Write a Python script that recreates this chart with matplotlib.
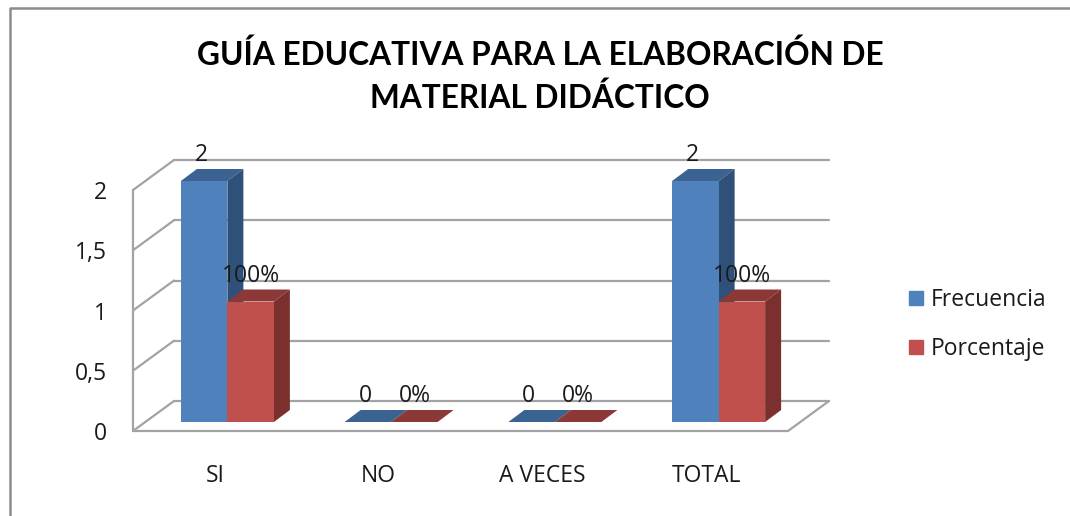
import matplotlib
matplotlib.use("Agg")
import matplotlib.pyplot as plt
from matplotlib.patches import Polygon, Patch
from matplotlib.lines import Line2D
from matplotlib.transforms import Affine2D

# ---- data ----
categories = ["SI", "NO", "A VECES", "TOTAL"]
frecuencia = [2, 0, 0, 2]
porcentaje = [1, 0, 0, 1]
frecuencia_labels = ["2", "0", "0", "2"]
porcentaje_labels = ["100%", "0%", "0%", "100%"]
y_ticks = [0, 0.5, 1, 1.5, 2]
y_tick_labels = ["0", "0,5", "1", "1,5", "2"]
title = "GUÍA EDUCATIVA PARA LA ELABORACIÓN DE\nMATERIAL DIDÁCTICO"

# ---- style ----
W, H = 1070, 516
plt.rcParams["font.family"] = ["Open Sans", "DejaVu Sans"]
TXT = "#1a1a1a"
GRID = "#a3a3a3"
FRAME = "#8c8c8c"
BLUE, BLUE_SIDE, BLUE_TOP = "#4F81BD", "#2F5179", "#3A6391"
RED, RED_SIDE, RED_TOP = "#C0504D", "#7B302E", "#8C3836"
WALL_DX, WALL_DY = 41, 30      # depth of the chart box, px
BAR_DX, BAR_DY = 16, 12        # depth of each bar, px
SHIFT_DX, SHIFT_DY = 12.5, 9   # bars sit inside the box, px
BAR_W = 0.284
FS = 16.5

fig = plt.figure(figsize=(W / 100, H / 100), dpi=100, facecolor="white")
L, R, TOP, BOT = 133, 788, 190, 431
ax = fig.add_axes([L / W, 1 - BOT / H, (R - L) / W, (BOT - TOP) / H])
ax.set_xlim(0, len(categories))
ax.set_ylim(0, 2)
ax.patch.set_visible(False)
for s in ax.spines.values():
    s.set_visible(False)

ax.set_xticks([i + 0.5 for i in range(len(categories))], categories)
ax.set_yticks(y_ticks, y_tick_labels)
ax.tick_params(axis="both", length=0, labelsize=FS, labelcolor=TXT)
ax.tick_params(axis="x", pad=23.5)
ax.tick_params(axis="y", pad=19)


# pixel-offset transforms on top of the data transform
def off(dx, dy):
    return ax.transData + Affine2D().translate(dx, dy)


wall = off(WALL_DX, WALL_DY)
bars = off(SHIFT_DX, SHIFT_DY)
bars_back = off(SHIFT_DX + BAR_DX, SHIFT_DY + BAR_DY)

# box: walls and floor
gk = dict(color=GRID, lw=1.6, clip_on=False, zorder=1, solid_capstyle="round")
xmax = len(categories)
for y in y_ticks:
    p0 = ax.transData.transform((0, y))
    p1 = wall.transform((0, y))
    ax.add_line(Line2D([p0[0], p1[0]], [p0[1], p1[1]], transform=None, **gk))
    ax.add_line(Line2D([0, xmax], [y, y], transform=wall, **gk))
ax.add_line(Line2D([0, 0], [0, 2], transform=ax.transData, **gk))
ax.add_line(Line2D([0, xmax], [0, 0], transform=ax.transData, **gk))
p0 = ax.transData.transform((xmax, 0))
p1 = wall.transform((xmax, 0))
ax.add_line(Line2D([p0[0], p1[0]], [p0[1], p1[1]], transform=None, **gk))


def bar3d(x, h, face, side, top, z):
    """Front face is a real bar; side and top come from the same geometry."""
    x0, x1 = x, x + BAR_W
    f = [(x0, h), (x1, h)]
    a = bars.transform(f)
    b = bars_back.transform(f)
    tp = [a[0], a[1], b[1], b[0]]
    ax.add_patch(Polygon(tp, closed=True, transform=None, fc=top, ec="none", zorder=z, clip_on=False))
    if h > 0:
        c = bars.transform([(x1, 0), (x1, h)])
        d = bars_back.transform([(x1, h), (x1, 0)])
        ax.add_patch(Polygon([c[0], c[1], d[0], d[1]], closed=True, transform=None,
                             fc=side, ec="none", zorder=z, clip_on=False))
        ax.bar(x0, h, width=BAR_W, align="edge", color=face, transform=bars,
               zorder=z + 0.1, clip_on=False)


for i in range(len(categories)):
    start = i + 0.5 - BAR_W
    bar3d(start, frecuencia[i], BLUE, BLUE_SIDE, BLUE_TOP, 3)
    bar3d(start + BAR_W, porcentaje[i], RED, RED_SIDE, RED_TOP, 4)

ax.set_xlim(0, len(categories))
ax.set_ylim(0, 2)

# data labels
for i in range(len(categories)):
    start = i + 0.5 - BAR_W
    ax.annotate(frecuencia_labels[i], (start + BAR_W / 2, frecuencia[i]),
                xycoords=bars, xytext=(-2, 18.5), textcoords="offset points",
                ha="center", va="center", fontsize=FS, color=TXT, zorder=6, annotation_clip=False)
    ax.annotate(porcentaje_labels[i], (start + 1.5 * BAR_W, porcentaje[i]),
                xycoords=bars, xytext=(0, 18.5), textcoords="offset points",
                ha="center", va="center", fontsize=FS, color=TXT, zorder=6, annotation_clip=False)

# legend
handles = [Patch(color=BLUE, label="Frecuencia"), Patch(color=RED, label="Porcentaje")]
fig.legend(handles=handles, loc="center left", bbox_to_anchor=(909 / W, 1 - 324.5 / H),
           frameon=False, fontsize=FS, labelcolor=TXT, handlelength=0.61, handleheight=0.61,
           handletextpad=0.35, labelspacing=1.09, borderpad=0, borderaxespad=0)

# title
fig.text(540 / W, 1 - 76 / H, title, ha="center", va="center", fontsize=22.75,
         fontweight="bold", family=["Lato", "DejaVu Sans"], color="black", linespacing=1.5)

# chart frame
fig.add_artist(Line2D([9.5 / W, 9.5 / W, 1], [0, 1 - 7.5 / H, 1 - 7.5 / H], color=FRAME, lw=1.8,
                      transform=fig.transFigure))

fig.savefig("out.png", dpi=100, facecolor="white")
